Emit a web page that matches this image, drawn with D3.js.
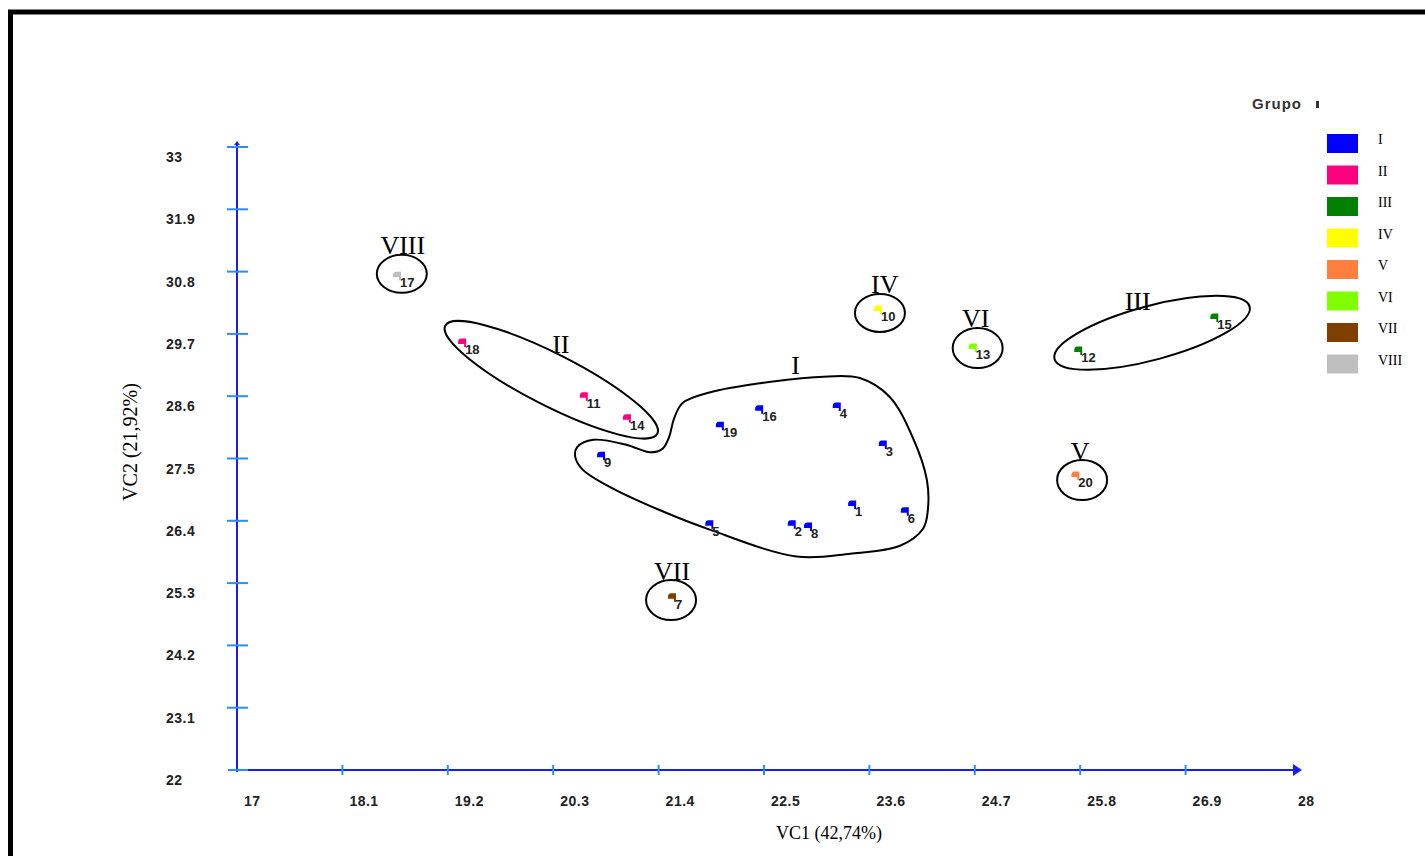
<!DOCTYPE html>
<html><head><meta charset="utf-8">
<script src="https://cdn.jsdelivr.net/npm/d3@7"></script>
<style>body{margin:0;background:#fff}svg{display:block}</style>
</head><body>
<svg id="c" width="1425" height="856"></svg>
<script>
// ---- data ----
const xTicks = [17, 18.1, 19.2, 20.3, 21.4, 22.5, 23.6, 24.7, 25.8, 26.9, 28];
const yTicks = [22, 23.1, 24.2, 25.3, 26.4, 27.5, 28.6, 29.7, 30.8, 31.9, 33];
const xTickLabels = ["17","18.1","19.2","20.3","21.4","22.5","23.6","24.7","25.8","26.9","28"];
const yTickLabels = ["22","23.1","24.2","25.3","26.4","27.5","28.6","29.7","30.8","31.9","33"];
const groups = ["I","II","III","IV","V","VI","VII","VIII"];
const groupColors = ["#0000ff","#ff0080","#007f00","#ffff00","#ff7f3f","#7fff00","#7f3f00","#bfbfbf"];
const pointIds =    ["1","2","3","4","5","6","7","8","9","10","11","12","13","14","15","16","17","18","19","20"];
const pointGroup =  ["I","I","I","I","I","I","VII","I","I","IV","II","III","VI","II","III","I","VIII","II","I","V"];
const pointVC1 =    [23.43,22.80,23.75,23.27,21.94,23.98,21.55,22.97,20.81,23.70,20.63,25.79,24.69,21.08,27.21,22.46,18.68,19.36,22.05,25.76];
const pointVC2 =    [26.68,26.33,27.74,28.41,26.33,26.56,25.04,26.29,27.54,30.12,28.59,29.40,29.45,28.20,29.98,28.36,30.72,29.54,28.07,27.19];
// group annotations (label baseline position, data units)
const annLabel  = ["VIII","II","I","IV","VI","III","V","VII"];
const annLabelX = [18.73, 20.38, 22.83, 23.76, 24.71, 26.40, 25.80, 21.54];
const annLabelY = [31.11, 29.36, 28.99, 30.43, 29.83, 30.12, 27.47, 25.35];
// circles / ellipses around groups (center in data units)
const ellName = ["VIII","IV","VI","V","VII","II","III"];
const ellCX = [18.72, 23.71, 24.73, 25.82, 21.53, 20.28, 26.55];
const ellCY = [30.76, 30.07, 29.45, 27.12, 25.00, 28.89, 29.72];
// cluster I outline (data units)
const hullX = [20.55,20.72,21.07,21.31,21.44,21.51,21.56,21.65,21.94,22.46,23.08,23.50,23.81,24.05,24.20,24.21,24.16,23.92,23.40,22.84,21.94,21.41,20.89,20.61,20.53];
const hullY = [27.70,27.83,27.74,27.61,27.67,27.88,28.20,28.48,28.67,28.83,28.94,28.92,28.59,27.88,27.12,26.59,26.26,25.96,25.82,25.77,26.24,26.59,27.00,27.30,27.53];

// ---- drawing ----
const svg = d3.select("#c");
const x = d3.scaleLinear().domain([17, 28]).range([237, 1291]);
const y = d3.scaleLinear().domain([22, 33]).range([770, 147]);

// frame
svg.append("line").attr("x1",8).attr("x2",1425).attr("y1",12).attr("y2",12).attr("stroke","#000").attr("stroke-width",5);
svg.append("line").attr("x1",10.5).attr("x2",10.5).attr("y1",10).attr("y2",856).attr("stroke","#000").attr("stroke-width",5);

const axisCol = "#1a1aff", tickCol = "#2a8cff";
svg.append("line").attr("x1",x(17)-8).attr("x2",x(28)+2).attr("y1",y(22)).attr("y2",y(22)).attr("stroke",axisCol).attr("stroke-width",2);
svg.append("line").attr("x1",x(17)).attr("x2",x(17)).attr("y1",y(22)+2).attr("y2",y(33)-4).attr("stroke",axisCol).attr("stroke-width",2);
svg.append("path").attr("d",`M${x(28)+2},${y(22)-6}L${x(28)+11},${y(22)}L${x(28)+2},${y(22)+6}Z`).attr("fill",axisCol);
svg.append("path").attr("d",`M${x(17)-3},${y(33)-2}L${x(17)},${y(33)-6}L${x(17)+3},${y(33)-2}Z`).attr("fill",axisCol);

svg.append("g").selectAll("line").data(xTicks.slice(1,-1)).join("line")
  .attr("x1",d=>x(d)).attr("x2",d=>x(d)).attr("y1",y(22)-5).attr("y2",y(22)+5)
  .attr("stroke",tickCol).attr("stroke-width",2);
svg.append("g").selectAll("line").data(yTicks.slice(1)).join("line")
  .attr("x1",x(17)-10).attr("x2",x(17)+11).attr("y1",d=>y(d)).attr("y2",d=>y(d))
  .attr("stroke",tickCol).attr("stroke-width",2);
svg.append("line").attr("x1",x(17)-9).attr("x2",x(17)+11).attr("y1",y(22)).attr("y2",y(22)).attr("stroke",tickCol).attr("stroke-width",2);

const tickFont = "bold 14px 'Liberation Sans', Arial, sans-serif";
svg.append("g").selectAll("text").data(xTicks).join("text")
  .attr("x",d=>x(d)+7).attr("y",y(22)+36).text((d,i)=>xTickLabels[i])
  .style("font",tickFont).style("letter-spacing","0.5px").attr("fill","#222");
svg.append("g").selectAll("text").data(yTicks).join("text")
  .attr("x",166).attr("y",d=>y(d)+15).text((d,i)=>yTickLabels[i])
  .style("font",tickFont).style("letter-spacing","0.5px").attr("fill","#222");

// axis titles
const serif = "'Liberation Serif','Times New Roman',serif";
svg.append("text").attr("x",829).attr("y",839).attr("text-anchor","middle")
  .style("font-family",serif).style("font-size","18px").text("VC1 (42,74%)");
svg.append("text").attr("transform","translate(137,442) rotate(-90)").attr("text-anchor","middle")
  .style("font-family",serif).style("font-size","20px").text("VC2 (21,92%)");

// cluster I outline
const hull = hullX.map((v,i)=>[x(v), y(hullY[i])]);
svg.append("path").attr("d", d3.line().curve(d3.curveCatmullRomClosed.alpha(0.5))(hull))
  .attr("fill","none").attr("stroke","#000").attr("stroke-width",2);

// ellipses
const ellRx = {VIII:25,IV:25,VI:25,V:25,VII:25,II:119,III:101};
const ellRy = {VIII:19,IV:19,VI:20,V:20,VII:20,II:26,III:27};
const ellRot = {VIII:0,IV:0,VI:0,V:0,VII:0,II:27,III:-15};
svg.append("g").selectAll("ellipse").data(ellName).join("ellipse")
  .attr("transform",(d,i)=>`translate(${x(ellCX[i])},${y(ellCY[i])}) rotate(${ellRot[d]})`)
  .attr("rx",d=>ellRx[d]).attr("ry",d=>ellRy[d])
  .attr("fill","none").attr("stroke","#000").attr("stroke-width",2);

// group annotation labels
svg.append("g").selectAll("text").data(annLabel).join("text")
  .attr("x",(d,i)=>x(annLabelX[i])).attr("y",(d,i)=>y(annLabelY[i]))
  .attr("text-anchor","middle").style("font-family",serif).style("font-size","26px")
  .text(d=>d);

// points (small flag markers)
const colorOf = d3.scaleOrdinal().domain(groups).range(groupColors);
const pts = svg.append("g").selectAll("g").data(pointIds).join("g")
  .attr("transform",(d,i)=>`translate(${x(pointVC1[i])},${y(pointVC2[i])})`);
pts.append("path").attr("d","M-5,-1Q-5,-4.5 -2,-4.5H3V4H1V1H-5Z")
  .attr("fill",(d,i)=>colorOf(pointGroup[i]));
pts.append("text").attr("x",2).attr("y",11).text(d=>d)
  .style("font","bold 13px 'Liberation Sans', Arial, sans-serif").attr("fill","#222");

// legend
svg.append("text").attr("x",1252).attr("y",109).text("Grupo")
  .style("font","bold 15px 'Liberation Sans', Arial, sans-serif").style("letter-spacing","1px").attr("fill","#333");
svg.append("rect").attr("x",1316).attr("y",101).attr("width",3).attr("height",7).attr("fill","#333");
const leg = svg.append("g").selectAll("g").data(groups).join("g")
  .attr("transform",(d,i)=>`translate(1327,${134 + i*31.5})`);
leg.append("rect").attr("width",31).attr("height",19).attr("fill",d=>colorOf(d));
leg.append("text").attr("x",51).attr("y",10).text(d=>d)
  .style("font-family",serif).style("font-size","14px").attr("fill","#000");
</script>
</body></html>
